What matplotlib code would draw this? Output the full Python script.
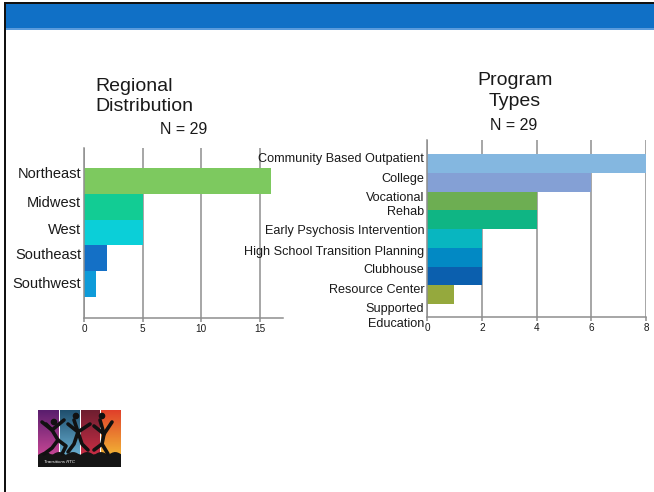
import numpy as np
import matplotlib
matplotlib.use("Agg")
import matplotlib.pyplot as plt
from matplotlib.patches import Rectangle, Polygon

plt.rcParams["font.family"] = ["Liberation Sans", "DejaVu Sans"]

# ---- data ----
regions = ["Northeast", "Midwest", "West", "Southeast", "Southwest"]
region_counts = [16, 5, 5, 2, 1]
region_colors = ["#7DC95F", "#12CC94", "#0BCFD8", "#1470C6", "#0E9BD9"]
region_ticks = [0, 5, 10, 15]

programs = ["Community Based Outpatient", "College", "Vocational\nRehab",
            "Early Psychosis Intervention", "High School Transition Planning",
            "Clubhouse", "Resource Center", "Supported\nEducation"]
program_counts = [8, 6, 4, 4, 2, 2, 2, 1]
program_colors = ["#84B7E0", "#84A0D5", "#6DAE52", "#0FB584",
                  "#08B6C0", "#0289C4", "#0B5FAE", "#95A93D"]
program_ticks = [0, 2, 4, 6, 8]

W, H = 654, 492
fig = plt.figure(figsize=(W / 100, H / 100), dpi=100)
fig.patch.set_facecolor("white")


def px(x, y, w, h):
    """Pixel box (from top-left) to figure fraction."""
    return [x / W, 1 - (y + h) / H, w / W, h / H]


# slide frame: black border, blue header band
for (x, y, w, h, c) in [(4, 2, 650, 2.5, "#111111"), (4, 2, 2.2, 490, "#111111"),
                        (6, 4.5, 648, 24, "#1070C6"), (6, 28.5, 648, 1.6, "#5A9BDC")]:
    b = px(x, y, w, h)
    fig.patches.append(Rectangle((b[0], b[1]), b[2], b[3], transform=fig.transFigure,
                                 facecolor=c, edgecolor="none", zorder=5))

GRID = "#8E8E8E"
TXT = "#1A1A1A"


def style(ax, xlim, ticks, ylim):
    ax.set_xlim(*xlim)
    ax.set_ylim(*ylim)
    ax.set_xticks(ticks)
    ax.set_axisbelow(True)
    ax.grid(axis="x", color=GRID, linewidth=1.1)
    for s in ["top", "right"]:
        ax.spines[s].set_visible(False)
    for s in ["left", "bottom"]:
        ax.spines[s].set_color(GRID)
        ax.spines[s].set_linewidth(1.1)
    ax.tick_params(axis="x", direction="out", length=3, width=1.1, color=GRID,
                   labelsize=7.2, labelcolor=TXT, pad=1.5)
    ax.tick_params(axis="y", length=0, labelsize=9, labelcolor=TXT, pad=2)
    ax.set_facecolor("none")


# ---- Regional distribution ----
ax1 = fig.add_axes(px(84, 148, 199, 170))
ax1.barh(np.arange(len(regions)), region_counts, height=1.0, color=region_colors)
style(ax1, (0, 17), region_ticks, (5.31, -1.275))
ax1.set_yticks([-0.31, 0.78, 1.83, 2.83, 3.95])
ax1.set_yticklabels(regions, fontsize=10.5)
fig.text(95 / W, 1 - 96.5 / H, "Regional\nDistribution", fontsize=14, color=TXT,
         ha="left", va="center", linespacing=1.3)
fig.text(184 / W, 1 - 130 / H, "N = 29", fontsize=11.5, color=TXT, ha="center", va="center")

# ---- Program types ----
ax2 = fig.add_axes(px(427, 140, 219, 177))
ax2.barh(np.arange(len(programs)), program_counts, height=1.0, color=program_colors)
style(ax2, (0, 8), program_ticks, (8.19, -1.247))
ax2.set_yticks([-0.34, 0.73, 2.09, 3.5, 4.67, 5.58, 6.65, 8.03])
ax2.set_yticklabels(programs, fontsize=9.1, linespacing=1.25)
fig.text(515 / W, 1 - 91 / H, "Program\nTypes", fontsize=14, color=TXT,
         ha="center", va="center", linespacing=1.3)
fig.text(514 / W, 1 - 125 / H, "N = 29", fontsize=11.5, color=TXT, ha="center", va="center")

# ---- logo: four gradient strips with jumping silhouettes ----
lg = fig.add_axes(px(38, 410, 83, 57))
lg.set_xlim(0, 83)
lg.set_ylim(57, 0)
lg.axis("off")
strips = [(0, 21, "#5A1E6E", "#E2509E"), (22, 42, "#1F4F6E", "#7CC7EA"),
          (43, 62, "#6E1E30", "#E0324A"), (63, 83, "#E0402A", "#F7D038")]
t = np.linspace(0, 1, 64)[:, None]
for x0, x1, c0, c1 in strips:
    a = np.array(matplotlib.colors.to_rgb(c0))
    b = np.array(matplotlib.colors.to_rgb(c1))
    img = (a[None, None, :] * (1 - t[..., None]) + b[None, None, :] * t[..., None])
    img = np.repeat(img, 2, axis=1)
    lg.imshow(img, extent=(x0, x1, 57, 0), aspect="auto", zorder=1)
lg.add_patch(Rectangle((0, 45), 83, 12, facecolor="#151515", zorder=2))
# grass edge
gx = np.linspace(0, 83, 40)
gy = 45 - 3 * np.abs(np.sin(gx * 1.7))
lg.add_patch(Polygon(np.column_stack([np.r_[0, gx, 83], np.r_[46, gy, 46]]),
                     facecolor="#151515", zorder=2))
figs = [
    [(8, 14), (14, 20), (20, 30), (14, 38), (6, 44)],
    [(20, 30), (28, 36), (24, 44)],
    [(14, 20), (4, 12)], [(14, 20), (26, 10)],
    [(36, 10), (40, 22), (36, 34), (30, 42)],
    [(40, 22), (44, 34), (50, 40)],
    [(40, 22), (30, 14)], [(40, 22), (52, 14)],
    [(62, 10), (66, 24), (64, 34), (70, 44)],
    [(64, 34), (56, 40)],
    [(66, 24), (56, 16)], [(66, 24), (74, 12)],
]
for seg in figs:
    xs, ys = zip(*seg)
    lg.plot(xs, ys, color="#111111", lw=2.6, solid_capstyle="round", zorder=3)
for hx, hy in [(16, 12), (38, 6), (64, 6)]:
    lg.add_patch(plt.Circle((hx, hy), 2.6, color="#111111", zorder=3))
lg.text(6, 52, "Transitions RTC", fontsize=3.2, color="white", style="italic",
        va="center", zorder=4)

fig.savefig("out.png", dpi=100, facecolor="white")
